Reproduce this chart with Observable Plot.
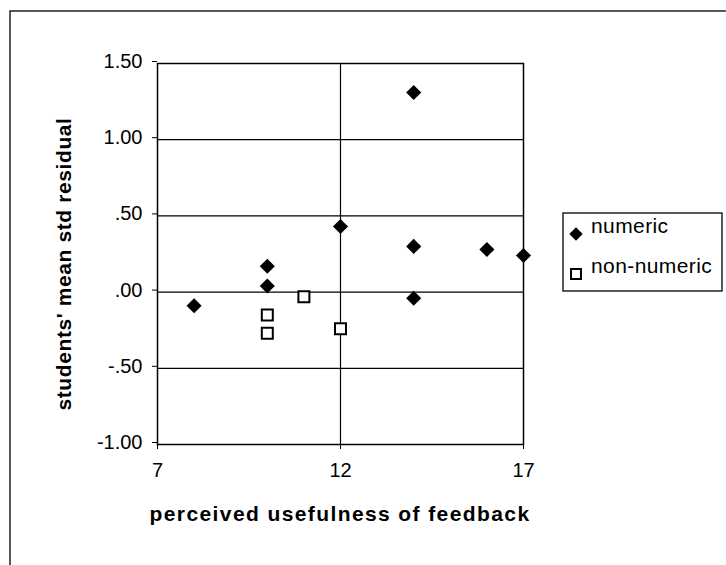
<!DOCTYPE html>
<html>
<head>
<meta charset="utf-8">
<script src="https://cdn.jsdelivr.net/npm/d3@7"></script>
<script src="https://cdn.jsdelivr.net/npm/@observablehq/plot@0.6"></script>
<style>
  html, body { margin: 0; padding: 0; background: white; }
  #chart { width: 726px; height: 565px; overflow: hidden; }
</style>
</head>
<body>
<div id="chart"></div>
<script>
// ---- data ----
const seriesNames = ["numeric", "non-numeric"];
const numericX = [8, 10, 10, 12, 14, 14, 14, 16, 17];
const numericY = [-0.09, 0.17, 0.04, 0.43, 1.31, 0.30, -0.04, 0.28, 0.24];
const nonNumericX = [10, 10, 11, 12];
const nonNumericY = [-0.15, -0.27, -0.03, -0.24];
const xTicks = [7, 12, 17];
const yTicks = [-1.0, -0.5, 0.0, 0.5, 1.0, 1.5];
const xTitle = "perceived usefulness of feedback";
const yTitle = "students' mean std residual";

const numeric = numericX.map((x, i) => ({x, y: numericY[i]}));
const nonNumeric = nonNumericX.map((x, i) => ({x, y: nonNumericY[i]}));

const fmtY = d => {
  let s = Math.abs(d).toFixed(2);
  if (s.startsWith("0")) s = s.slice(1);
  return (d < 0 ? "-" : "") + s;
};

const W = 726, H = 565;
const FONT = "'Liberation Sans', Arial, sans-serif";
const chart = Plot.plot({
  width: W,
  height: H,
  marginLeft: 157,
  marginRight: 203,
  marginTop: 63,
  marginBottom: 121,
  style: {fontFamily: FONT, fontSize: "20px", color: "black", background: "white", overflow: "visible"},
  x: {domain: [7, 17]},
  y: {domain: [-1, 1.5]},
  marks: [
    Plot.gridY(yTicks, {stroke: "black", strokeOpacity: 1, strokeWidth: 1.2}),
    Plot.gridX([12], {stroke: "black", strokeOpacity: 1, strokeWidth: 1.2}),
    Plot.frame({stroke: "black", strokeWidth: 1.5}),
    Plot.axisY(yTicks, {tickSize: 5, tickPadding: 10, tickFormat: fmtY, label: null, dy: -2, fontSize: 20, letterSpacing: 0.5}),
    Plot.axisX(xTicks, {tickSize: 5, tickPadding: 13, tickFormat: d => String(d), label: null, fontSize: 20}),
    Plot.dot(numeric, {x: "x", y: "y", symbol: "diamond2", fill: "black", stroke: "none", r: 6.8}),
    Plot.dot(nonNumeric, {x: "x", y: "y", symbol: "square", fill: "white", stroke: "black", strokeWidth: 2, r: 6.2})
  ]
});
document.getElementById("chart").appendChild(chart);

const svg = d3.select(chart);

// outer chart-area border (left and top edges visible in reference)
svg.append("rect")
  .attr("x", 10).attr("y", 11).attr("width", W + 20).attr("height", H + 20)
  .attr("fill", "none").attr("stroke", "black").attr("stroke-width", 1.3);

// axis titles
svg.append("text")
  .attr("x", 340).attr("y", 521)
  .attr("text-anchor", "middle")
  .attr("font-family", FONT)
  .attr("font-weight", "bold").attr("font-size", 21)
  .attr("letter-spacing", 1.4)
  .text(xTitle);

svg.append("text")
  .attr("transform", "translate(71,264) rotate(-90)")
  .attr("text-anchor", "middle")
  .attr("font-family", FONT)
  .attr("font-weight", "bold").attr("font-size", 21)
  .attr("letter-spacing", 0.6)
  .text(yTitle);

// legend
const lg = svg.append("g");
lg.append("rect")
  .attr("x", 563).attr("y", 213).attr("width", 159).attr("height", 78)
  .attr("fill", "white").attr("stroke", "black").attr("stroke-width", 1.3);
const diamond = d3.symbol(d3.symbolDiamond2, Math.PI * 6.0 * 6.0)();
const square = d3.symbol(d3.symbolSquare, Math.PI * 5.6 * 5.6)();
lg.append("path").attr("d", diamond).attr("transform", "translate(576,234)").attr("fill", "black");
lg.append("path").attr("d", square).attr("transform", "translate(576,274)").attr("fill", "white").attr("stroke", "black").attr("stroke-width", 2);
lg.selectAll("text.lab").data(seriesNames).join("text")
  .attr("class", "lab")
  .attr("x", 591).attr("y", (d, i) => i === 0 ? 233 : 273)
  .attr("text-anchor", "start")
  .attr("font-family", FONT)
  .attr("font-size", 21)
  .attr("letter-spacing", 0.4)
  .text(d => d);
</script>
</body>
</html>
